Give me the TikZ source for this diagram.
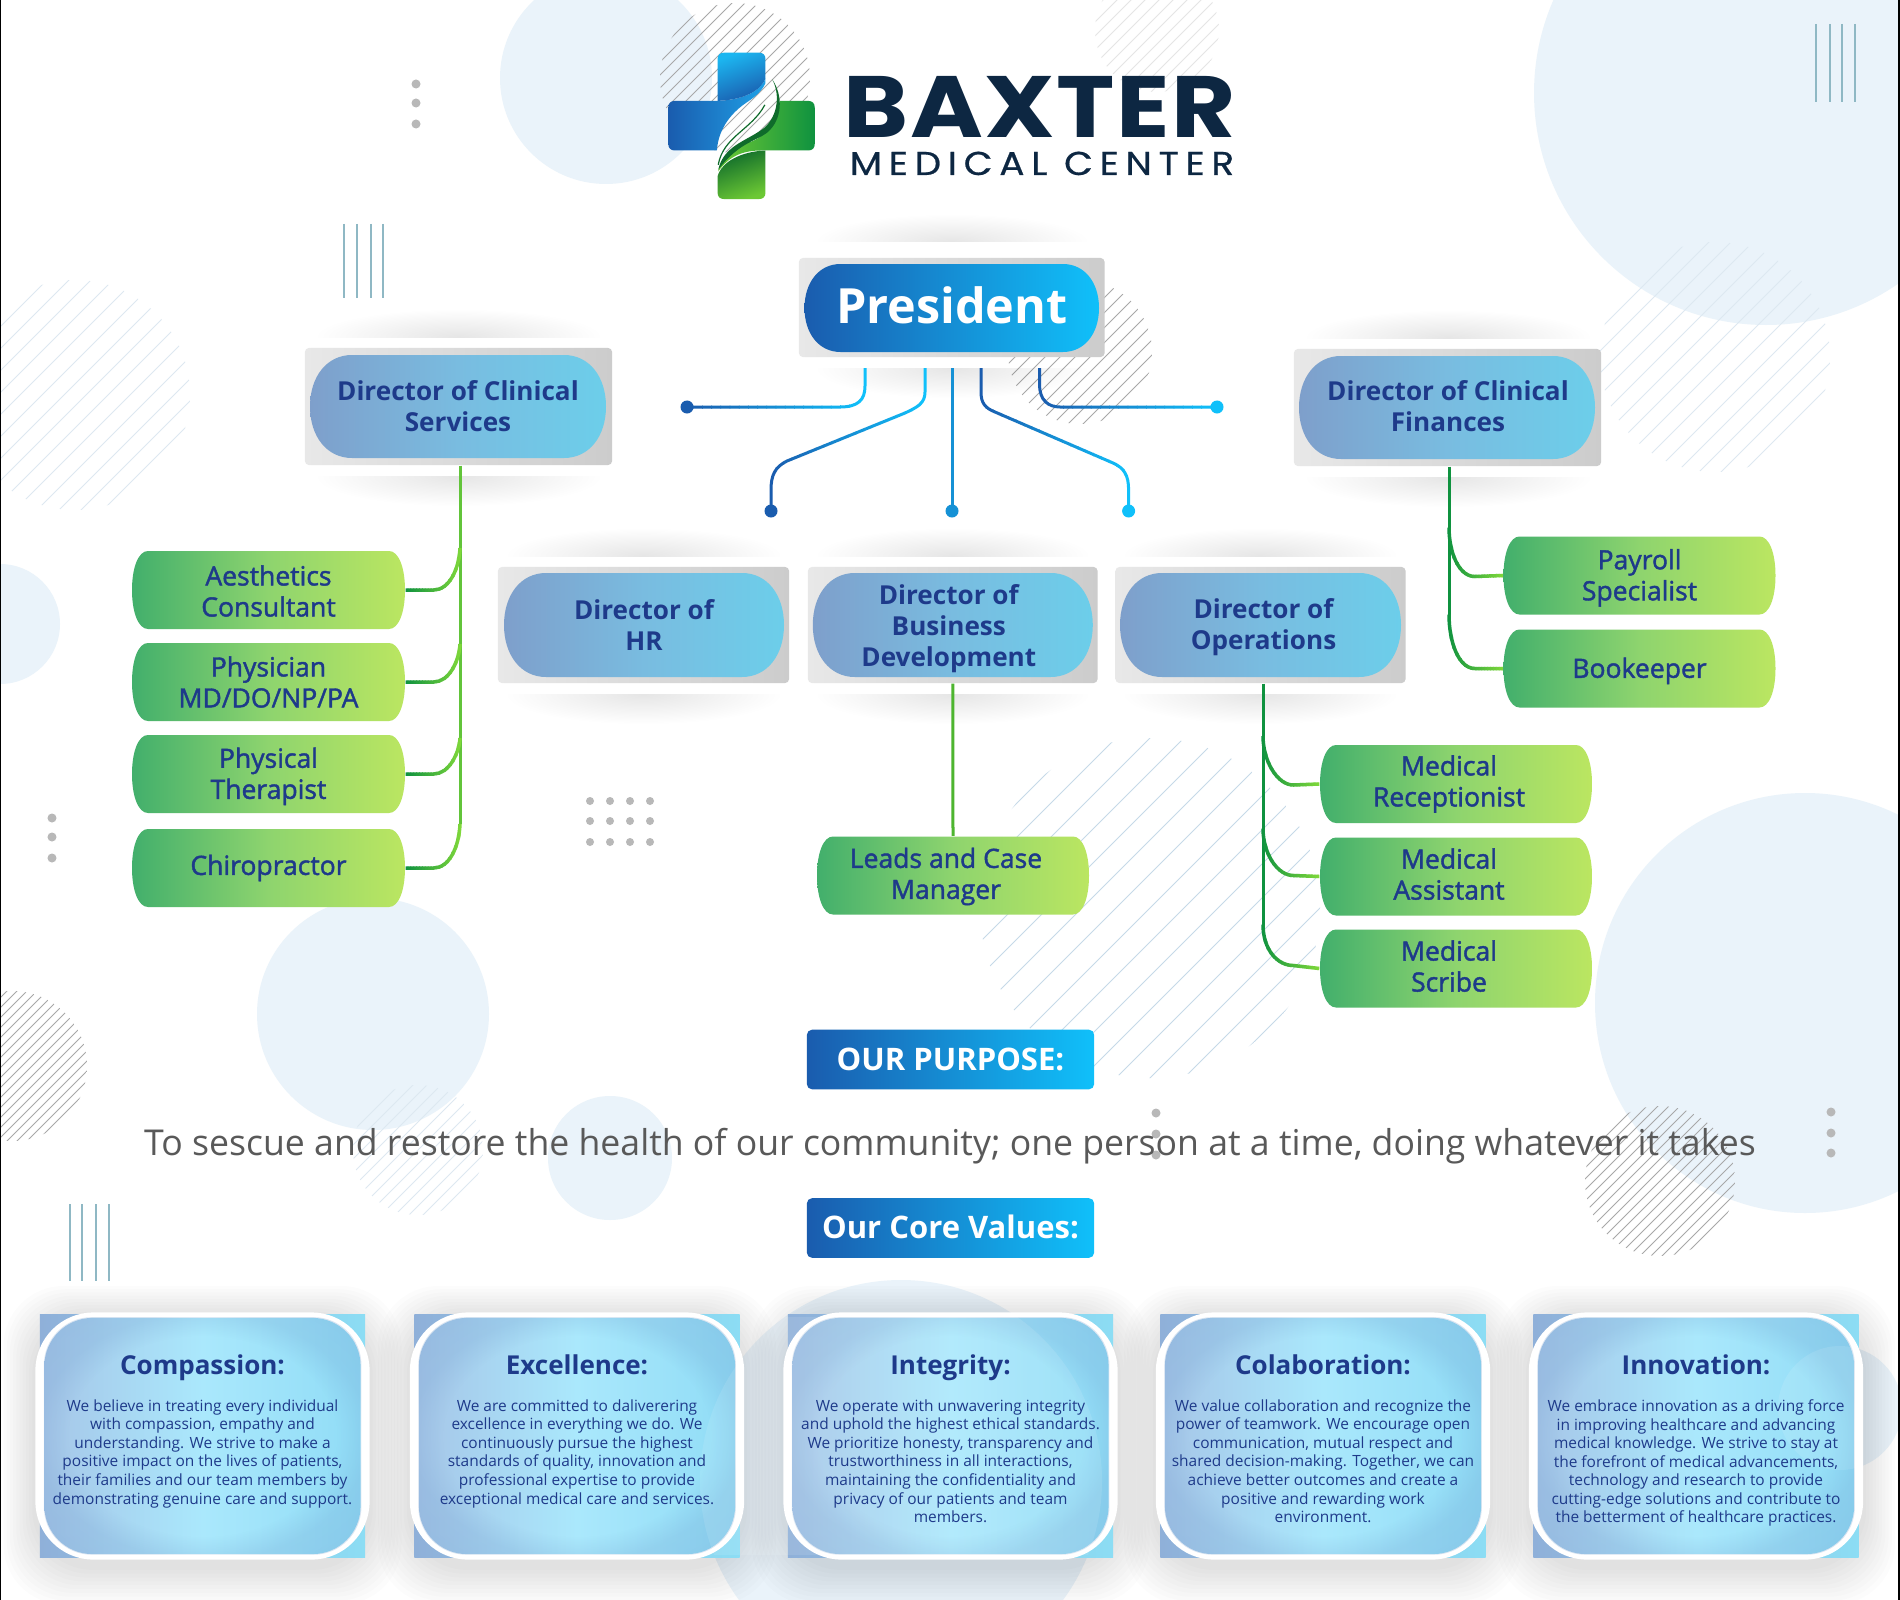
\documentclass[tikz,border=0pt]{standalone}
\usepackage{fontspec}
\setmainfont{Open Sans}
\newfontfamily\popb[LetterSpace=1.5]{Poppins}
\newfontfamily\popm[LetterSpace=18,FakeBold=0.6]{Poppins}
\newfontfamily\medf[FakeBold=1.6]{Open Sans}
\usetikzlibrary{calc,fadings}
\newcommand{\pxf}[2]{\fontsize{\fpeval{#1*0.28453}pt}{\fpeval{#2*0.28453}pt}\selectfont}
\definecolor{cbg}{HTML}{EAF3FA}
\definecolor{ctxt}{HTML}{1E3A8A}
\definecolor{cdark}{HTML}{1A5CAE}
\definecolor{ccyan}{HTML}{10C0FA}
\definecolor{gdark}{HTML}{0F923F}
\definecolor{glight}{HTML}{7FD83A}
\definecolor{HTMLlogob}{HTML}{1FA0E6}
\definecolor{HTMLlogoc}{HTML}{1CB6F0}
\definecolor{HTMLlogog}{HTML}{6CC834}
\definecolor{HTMLlogod}{HTML}{0F6B2B}
\definecolor{HTMLbax}{HTML}{0D2742}
\definecolor{HTMLpresm}{HTML}{1590D8}
\definecolor{HTMLmidb}{HTML}{1591D5}
\definecolor{HTMLgl}{HTML}{62C43A}
\definecolor{HTMLgbd}{HTML}{4DB52F}
\definecolor{HTMLpurp}{HTML}{595959}
\definecolor{HTMLbluea}{HTML}{7E9FCB}
\definecolor{HTMLblueb}{HTML}{6CCEEA}
\definecolor{HTMLbluem}{HTML}{79BCE0}
\definecolor{HTMLgreena}{HTML}{42AF6C}
\definecolor{HTMLgreenb}{HTML}{BBE661}
\definecolor{HTMLgreenm}{HTML}{8ED46E}
\definecolor{HTMLvbar}{HTML}{8FB8C4}
\definecolor{HTMLhatch}{HTML}{C6D9E8}
\definecolor{cardl}{HTML}{A6C6E8}
\definecolor{cardm}{HTML}{AAE8FC}
\definecolor{cardr}{HTML}{90DCF6}
\definecolor{cardv}{HTML}{6E9ACB}
\definecolor{backl}{HTML}{8FB0D9}
\definecolor{backr}{HTML}{8CDDF4}
\pgfdeclareradialshading{softsh}{\pgfpoint{0bp}{0bp}}{rgb(0bp)=(.10,.10,.10); rgb(25bp)=(0,0,0); rgb(100bp)=(0,0,0)}
\pgfdeclarefading{softf}{\pgfuseshading{softsh}}
\pgfdeclareradialshading{vigsh}{\pgfpoint{0bp}{0bp}}{rgb(0bp)=(0,0,0); rgb(21bp)=(0,0,0); rgb(26bp)=(.22,.22,.22); rgb(38bp)=(.3,.3,.3); rgb(100bp)=(.3,.3,.3)}
\pgfdeclarefading{vigf}{\pgfuseshading{vigsh}}
\tikzset{
  bgdisc/.style={fill=cbg},
  greybox/.style={rectangle,rounded corners=0.04cm,left color=black!9,right color=black!20,inner sep=0pt},
  bluepill/.style={left color=HTMLbluea,right color=HTMLblueb,middle color=HTMLbluem},
  bluepill text/.style={text=ctxt,align=center,inner sep=0pt,font=\bfseries\pxf{26.1}{31}},
  prespill/.style={left color=cdark,middle color=HTMLpresm,right color=ccyan},
  prespill text/.style={text=white,align=center,inner sep=0pt,font=\bfseries\pxf{48.5}{52}},
  greenpill/.style={left color=HTMLgreena,right color=HTMLgreenb,middle color=HTMLgreenm},
  greenpill text/.style={text=ctxt,align=center,inner sep=0pt,font=\medf\pxf{26.5}{31}},
  banner/.style={rectangle,rounded corners=0.05cm,left color=cdark,right color=ccyan,text=white,align=center,inner sep=0pt,font=\bfseries\pxf{31}{36},minimum width=2.87cm,minimum height=0.595cm},
  grid dot/.style={circle,fill=black!28,inner sep=0pt,minimum size=0.09cm},
  enddot/.style={circle,inner sep=0pt,minimum size=0.13cm},
  cardtitle/.style={text=ctxt,font=\bfseries\pxf{26}{32},inner sep=0pt,anchor=base},
  cardbody/.style={text=ctxt,align=center,font=\pxf{15.45}{18.5},inner sep=0pt,anchor=north},
}
\newcommand{\pill}[9]{% style name cx cy w h rx textoffset text
  \pgfmathsetmacro{\pa}{#3-#5/2}\pgfmathsetmacro{\pb}{#3+#5/2}\pgfmathsetmacro{\pc}{#4-#6/2}\pgfmathsetmacro{\pd}{#4+#6/2}
  \shade[#1] (\pa+#7,\pc) -- (\pb-#7,\pc) .. controls (\pb-#7*0.40,\pc) and (\pb,#4-#6*0.29) .. (\pb,#4) .. controls (\pb,#4+#6*0.29) and (\pb-#7*0.40,\pd) .. (\pb-#7,\pd) -- (\pa+#7,\pd) .. controls (\pa+#7*0.40,\pd) and (\pa,#4+#6*0.29) .. (\pa,#4) .. controls (\pa,#4-#6*0.29) and (\pa+#7*0.40,\pc) .. (\pa+#7,\pc) -- cycle;
  \node[rectangle,inner sep=0pt,minimum width={#5*0.01cm},minimum height={#6*0.01cm}] (#2) at (#3,#4) {};
  \node[#1 text] (#2text) at ($(#2)+(#8)$) {#9};
}
\newcommand{\hatch}[6]{% cx cy r colour width spacing
  \begin{scope}
    \clip (#1,#2) circle (#3);
    \pgfmathsetmacro{\hL}{#3*1.25}
    \pgfmathsetmacro{\hN}{int(#3*2.8/#6)}
    \foreach \hi in {0,...,\hN}{
      \pgfmathsetmacro{\hd}{(\hi-\hN/2)*#6}
      \draw[#4,line width=#5] (#1+\hd+\hL,#2+\hd-\hL) -- (#1+\hd-\hL,#2+\hd+\hL);
    }
  \end{scope}}
\newcommand{\vbars}[6]{% x1 x2 x3 x4 y0 y1
  \foreach \vx in {#1,#2,#3,#4}{\draw[HTMLvbar,line width=0.012cm] (\vx,#5) -- (\vx,#6);}}
\newcommand{\softshadow}[4]{% x0 x1 y h
  \begin{scope}
    \clip (#1,#3) rectangle (#2,#3+#4);
    \fill[black,path fading=softf] ({(#1+#2)/2},#3) ellipse ({(#2-#1)/2} and {abs(#4)});
  \end{scope}}
\newcommand{\gstroke}[6]{% path x0 x1 colA colB width
  \foreach \gi in {0,...,19}{%
    \pgfmathsetmacro{\gf}{100*\gi/19}
    \pgfmathsetmacro{\gxa}{#2+(#3-#2)*\gi/20-0.4}
    \pgfmathsetmacro{\gxb}{#2+(#3-#2)*(\gi+1)/20+0.4}
    \begin{scope}
      \clip (\gxa,0) rectangle (\gxb,1600);
      \draw[line width=#6,#5!\gf!#4] #1;
    \end{scope}}}
\newcommand{\cardshadow}[1]{%
  \foreach \si in {1,...,10}{
    \pgfmathsetmacro{\sx}{\si*3.2}
    \fill[black,opacity=0.012,rounded corners=0.6cm] (#1-167-\sx,1442-124-\sx) rectangle (#1+167+\sx,1442+124+\sx*1.2);
  }}
\newcommand{\cardface}[2]{%
  \node[rectangle,inner sep=0pt,left color=backl,right color=backr,minimum width=3.25cm,minimum height=2.42cm] (#2back) at (#1,1436) {};
  \node[rectangle,inner sep=0pt,fill=white,rounded corners=0.58cm,minimum width=3.34cm,minimum height=2.47cm] (#2rim) at (#1,1436) {};
  \node[rectangle,inner sep=0pt,left color=cardl,right color=cardr,middle color=cardm,rounded corners=0.48cm,minimum width=3.16cm,minimum height=2.36cm] (#2) at (#1,1436) {};
  \fill[cardv,path fading=vigf,rounded corners=0.48cm] (#2.south west) rectangle (#2.north east);
}
\newcommand{\cardtext}[4]{%
  \node[cardtitle] (#2title) at (#1,1374) {#3};
  \node[cardbody] (#2body) at (#1,1399) {#4};
}
\begin{document}
\begin{tikzpicture}[x=0.01cm,y=-0.01cm]
\useasboundingbox (0,0) rectangle (1900,1600);
\fill[white] (0,0) rectangle (1900,1600);
% background discs
\fill[bgdisc] (606,78) circle (106);
\fill[bgdisc] (1766,93) circle (232);
\fill[bgdisc] (0,624) circle (60);
\fill[bgdisc] (373,1014) circle (116);
\fill[bgdisc] (1805,1003) circle (210);
\fill[bgdisc] (610,1158) circle (62);
\fill[bgdisc] (901,1481) circle (201);
\fill[bgdisc] (1840,1408) circle (62);
% hatch patches
\hatch{735}{78}{75}{black!34}{0.008cm}{6.5}
\hatch{1080}{352}{72}{black!34}{0.008cm}{7.5}
\hatch{1157}{30}{62}{black!10}{0.008cm}{7}
\hatch{75}{395}{115}{HTMLhatch!60}{0.008cm}{11}
\hatch{1715}{357}{115}{HTMLhatch!60}{0.008cm}{11}
\hatch{1150}{908}{170}{HTMLhatch}{0.008cm}{17}
\hatch{12}{1066}{75}{black!34}{0.008cm}{5}
\hatch{418}{1150}{65}{HTMLhatch!60}{0.008cm}{7}
\hatch{1660}{1181}{75}{black!34}{0.008cm}{5.5}
% vertical bars
\vbars{344}{357}{371}{383}{224}{298}
\vbars{1816}{1830}{1842}{1855}{24}{102}
\vbars{70}{82}{96}{109}{1204}{1281}
% dot groups
\foreach \dx/\dy in {416/84,416/103,416/124,52/818,52/837,52/858,1156/1113,1156/1134,1156/1155,1831/1112,1831/1133,1831/1153}{\node[grid dot] at (\dx,\dy) {};}
\foreach \dx in {590,610,630,650}{\foreach \dy in {801,821,842}{\node[grid dot,minimum size=0.08cm] at (\dx,\dy) {};}}
% edge lines
\fill[black] (0,0) rectangle (1.2,1600);
\fill[black] (1898,0) rectangle (1899.5,1600);
% logo
\begin{scope}[shift={(655,40)},x=0.003333cm,y=-0.003333cm]
  \shade[left color=cdark,right color=HTMLlogob] (40,203) .. controls (40,190) and (47,183) .. (60,183) -- (188,183) .. controls (270,180) and (320,150) .. (332,115) -- (332,130) .. controls (315,165) and (285,180) .. (265,195) .. controls (225,225) and (190,270) .. (186,332) -- (60,332) .. controls (47,332) and (40,325) .. (40,312) -- cycle;
  \shade[shading=axis,top color=HTMLlogoc,bottom color=cdark,shading angle=20] (188,183) -- (188,58) .. controls (188,45) and (195,38) .. (208,38) -- (312,38) .. controls (325,38) and (332,45) .. (332,58) -- (332,115) .. controls (320,150) and (270,180) .. (188,183) -- cycle;
  \shade[left color=HTMLlogog,right color=gdark] (375,183) -- (460,183) .. controls (473,183) and (480,190) .. (480,203) -- (480,312) .. controls (480,325) and (473,332) .. (460,332) -- (320,332) .. controls (270,332) and (225,345) .. (190,395) .. controls (200,345) and (240,320) .. (290,305) .. controls (340,285) and (365,240) .. (375,183) -- cycle;
  \shade[shading=axis,top color=HTMLlogod,bottom color=HTMLlogog,shading angle=20] (332,332) -- (332,458) .. controls (332,471) and (325,478) .. (312,478) -- (208,478) .. controls (195,478) and (188,471) .. (188,458) -- (188,410) .. controls (200,365) and (260,335) .. (332,332) -- cycle;
  \fill[HTMLlogod] (352,118) .. controls (385,165) and (385,240) .. (335,280) .. controls (300,305) and (250,310) .. (190,390) .. controls (205,320) and (270,305) .. (320,270) .. controls (365,240) and (380,170) .. (352,118) -- cycle;
  \draw[HTMLlogod,line width=0.012cm] (190,375) .. controls (205,290) and (290,270) .. (330,195);
\end{scope}
\node[anchor=base,inner sep=0pt,text=HTMLbax,font={\popb\bfseries\pxf{87}{90}}] (baxter) at (1040,138) {\scalebox{1.135}[1]{BAXTER}};
\node[anchor=base,inner sep=0pt,text=HTMLbax,font={\popm\pxf{33}{36}}] (medcenter) at (1042,175) {\scalebox{1.132}[1]{MEDICAL CENTER}};
% node shadows
\softshadow{815}{1089}{242}{-28}
\softshadow{815}{1089}{368}{30}
\softshadow{315}{602}{337}{-28}
\softshadow{315}{602}{476}{30}
\softshadow{1304}{1592}{338}{-28}
\softshadow{1304}{1592}{477}{30}
\softshadow{505}{782}{556}{-28}
\softshadow{505}{782}{694}{30}
\softshadow{815}{1090}{556}{-28}
\softshadow{815}{1090}{694}{30}
\softshadow{1122}{1398}{556}{-28}
\softshadow{1122}{1398}{694}{30}
% grey boxes
\node[greybox,minimum width=3.055cm,minimum height=0.99cm] (presbox) at (951.75,307.5) {};
\node[greybox,minimum width=3.07cm,minimum height=1.17cm] (dcsbox) at (458.5,406.5) {};
\node[greybox,minimum width=3.07cm,minimum height=1.17cm] (dcfbox) at (1447.5,407.5) {};
\node[greybox,minimum width=2.91cm,minimum height=1.16cm] (hrbox) at (643.5,625) {};
\node[greybox,minimum width=2.895cm,minimum height=1.16cm] (bdbox) at (952.75,625) {};
\node[greybox,minimum width=2.90cm,minimum height=1.16cm] (opsbox) at (1260.5,625) {};
% blue pills
\pill{prespill}{pres}{951.75}{308}{294.5}{88}{36}{0,-2.4}{President}
\pill{bluepill}{dcs}{458}{406.5}{296}{103}{42}{0,0}{Director of Clinical\\Services}
\pill{bluepill}{dcf}{1447}{407.5}{296}{103}{42}{1,-1}{Director of Clinical\\Finances}
\pill{bluepill}{hr}{644}{625}{280}{104}{42}{0,0}{Director of\\HR}
\pill{bluepill}{bd}{952.8}{625}{280}{104}{42}{-4,3.5}{Director of\\Business\\Development}
\pill{bluepill}{ops}{1260.5}{625}{281}{104}{42}{3,2.4}{Director of\\Operations}
% green pills
\pill{greenpill}{aes}{268.5}{590}{273}{78}{16}{0,1}{Aesthetics\\Consultant}
\pill{greenpill}{phy}{268.5}{682}{273}{78}{16}{0,0}{Physician\\MD/DO/NP/PA}
\pill{greenpill}{pt}{268.5}{774}{273}{78}{16}{0,2.4}{Physical\\Therapist}
\pill{greenpill}{chi}{268.5}{868}{273}{78}{16}{0,0}{Chiropractor}
\pill{greenpill}{pay}{1639.5}{575.5}{272}{78}{16}{0,2.4}{Payroll\\Specialist}
\pill{greenpill}{book}{1639.5}{668.5}{272}{78}{16}{0,2.4}{Bookeeper}
\pill{greenpill}{rec}{1456}{784}{272}{78}{16}{-7,0}{Medical\\Receptionist}
\pill{greenpill}{asst}{1456}{876.5}{272}{78}{16}{-7,-2.4}{Medical\\Assistant}
\pill{greenpill}{scr}{1456}{968.5}{272}{78}{16}{-7,-2.4}{Medical\\Scribe}
\pill{greenpill}{lead}{953}{875.5}{272}{78}{16}{-7,1}{Leads and Case\\Manager}
% blue connectors
\coordinate (s1) at (865,368);
\coordinate (s2) at (925,368);
\coordinate (s3) at (952,368);
\coordinate (s4) at (981,368);
\coordinate (s5) at (1039.6,368);
\node[enddot,fill=cdark] (d1) at (687,407) {};
\node[enddot,fill=cdark] (d2) at (771,511) {};
\node[enddot,fill=HTMLmidb] (d3) at (952,511) {};
\node[enddot,fill=ccyan] (d4) at (1128.6,511) {};
\node[enddot,fill=ccyan] (d5) at (1217,407) {};
\gstroke{(s1) -- (865,386) .. controls (865,400) and (858,407) .. (840,407) -- (d1.center)}{684}{868}{cdark}{ccyan}{0.03cm}
\gstroke{(s2) -- (925,392) .. controls (925,403) and (918,407) .. (905,413) -- (787,461) .. controls (775,467) and (771,475) .. (771,490) -- (d2.center)}{768}{928}{cdark}{ccyan}{0.03cm}
\draw[HTMLmidb,line width=0.03cm] (s3) -- (d3.center);
\gstroke{(s4) -- (981,392) .. controls (981,403) and (985,408) .. (995,412) -- (1113,463) .. controls (1124,468) and (1128.6,475) .. (1128.6,490) -- (d4.center)}{978}{1132}{cdark}{ccyan}{0.03cm}
\gstroke{(s5) -- (1039.6,385) .. controls (1039.6,400) and (1048,407) .. (1060,407) -- (d5.center)}{1036}{1220}{cdark}{ccyan}{0.03cm}
% green connectors: clinical services
\coordinate (dcst) at ($(dcsbox.south)+(1.5,0)$);
\coordinate (dcft) at ($(dcfbox.south)+(1.5,0)$);
\coordinate (opst) at ($(opsbox.south)+(2.5,0)$);
\draw[HTMLgl,line width=0.03cm] (dcst) -- ($(chi.east -| dcst)+(0,-44)$);
\gstroke{(aes.east) -- ++(28,0) .. controls +(15,0) and ($(aes.east -| dcst)+(-1,-20)$) .. ($(aes.east -| dcst)+(0,-42)$)}{405}{463}{gdark}{glight}{0.035cm}
\gstroke{(phy.east) -- ++(28,0) .. controls +(15,0) and ($(phy.east -| dcst)+(-1,-20)$) .. ($(phy.east -| dcst)+(0,-38)$)}{405}{463}{gdark}{glight}{0.035cm}
\gstroke{(pt.east) -- ++(28,0) .. controls +(15,0) and ($(pt.east -| dcst)+(-1,-20)$) .. ($(pt.east -| dcst)+(0,-36)$)}{405}{463}{gdark}{glight}{0.035cm}
\gstroke{(chi.east) -- ++(28,0) .. controls +(15,0) and ($(chi.east -| dcst)+(-1,-20)$) .. ($(chi.east -| dcst)+(0,-44)$)}{405}{463}{gdark}{glight}{0.035cm}
% clinical finances
\draw[gdark,line width=0.03cm] (dcft) -- ($(book.west -| dcft)+(0,-54)$);
\gstroke{($(pay.west -| dcft)+(0,-48)$) .. controls +(0,25) and ($(pay.west)+(-44,1)$) .. ($(pay.west)+(-28,1)$) -- (pay.west)}{1447}{1505}{gdark}{glight}{0.035cm}
\gstroke{($(book.west -| dcft)+(0,-54)$) .. controls +(0,28) and ($(book.west)+(-44,0)$) .. ($(book.west)+(-28,0)$) -- (book.west)}{1447}{1505}{gdark}{glight}{0.035cm}
% operations
\draw[gdark,line width=0.03cm] (opst) -- ($(scr.west -| opst)+(0,-44)$);
\gstroke{($(rec.west -| opst)+(0,-48)$) .. controls +(0,25) and ($(rec.west)+(-42,1)$) .. ($(rec.west)+(-26,1)$) -- (rec.west)}{1261}{1321}{gdark}{glight}{0.035cm}
\gstroke{($(asst.west -| opst)+(0,-48)$) .. controls +(0,25) and ($(asst.west)+(-42,-1)$) .. ($(asst.west)+(-26,-1)$) -- (asst.west)}{1261}{1321}{gdark}{glight}{0.035cm}
\gstroke{($(scr.west -| opst)+(0,-44)$) .. controls +(0,25) and ($(scr.west)+(-42,-3)$) .. ($(scr.west)+(-26,-3)$) -- (scr.west)}{1261}{1321}{gdark}{glight}{0.035cm}
% business development
\draw[HTMLgbd,line width=0.03cm] (bdbox.south) -- (lead.north);
% banners and purpose
\node[banner] (purpose) at (950.5,1059.5) {OUR PURPOSE:};
\node[text=HTMLpurp,inner sep=0pt,font=\pxf{35.6}{40}] (purposetext) at (950,1146) {To sescue and restore the health of our community; one person at a time, doing whatever it takes};
\node[banner] (values) at (950.5,1228) {\raisebox{0.02cm}{Our Core Values:}};
% cards
\cardshadow{202.5}\cardshadow{577}\cardshadow{950.5}\cardshadow{1323}\cardshadow{1696}
\cardface{202.5}{cardA}
\cardface{577}{cardB}
\cardface{950.5}{cardC}
\cardface{1323}{cardD}
\cardface{1696}{cardE}
\begin{scope}
  \clip (cardB.south west) rectangle (cardD.north east);
  \fill[white,opacity=0.10] (901,1481) circle (201);
\end{scope}
\begin{scope}
  \clip (cardE.south west) rectangle (cardE.north east);
  \fill[white,opacity=0.10] (1840,1408) circle (62);
\end{scope}
\cardtext{202.5}{cardA}{Compassion:}{We believe in treating every individual\\with compassion, empathy and\\understanding. We strive to make a\\positive impact on the lives of patients,\\their families and our team members by\\demonstrating genuine care and support.}
\cardtext{577}{cardB}{Excellence:}{We are committed to daliverering\\excellence in everything we do. We\\continuously pursue the highest\\standards of quality, innovation and\\professional expertise to provide\\exceptional medical care and services.}
\cardtext{950.5}{cardC}{Integrity:}{We operate with unwavering integrity\\and uphold the highest ethical standards.\\We prioritize honesty, transparency and\\trustworthiness in all interactions,\\maintaining the confidentiality and\\privacy of our patients and team\\members.}
\cardtext{1323}{cardD}{Colaboration:}{We value collaboration and recognize the\\power of teamwork. We encourage open\\communication, mutual respect and\\shared decision-making. Together, we can\\achieve better outcomes and create a\\positive and rewarding work\\environment.}
\cardtext{1696}{cardE}{Innovation:}{We embrace innovation as a driving force\\in improving healthcare and advancing\\medical knowledge. We strive to stay at\\the forefront of medical advancements,\\technology and research to provide\\cutting-edge solutions and contribute to\\the betterment of healthcare practices.}
\end{tikzpicture}
\end{document}
